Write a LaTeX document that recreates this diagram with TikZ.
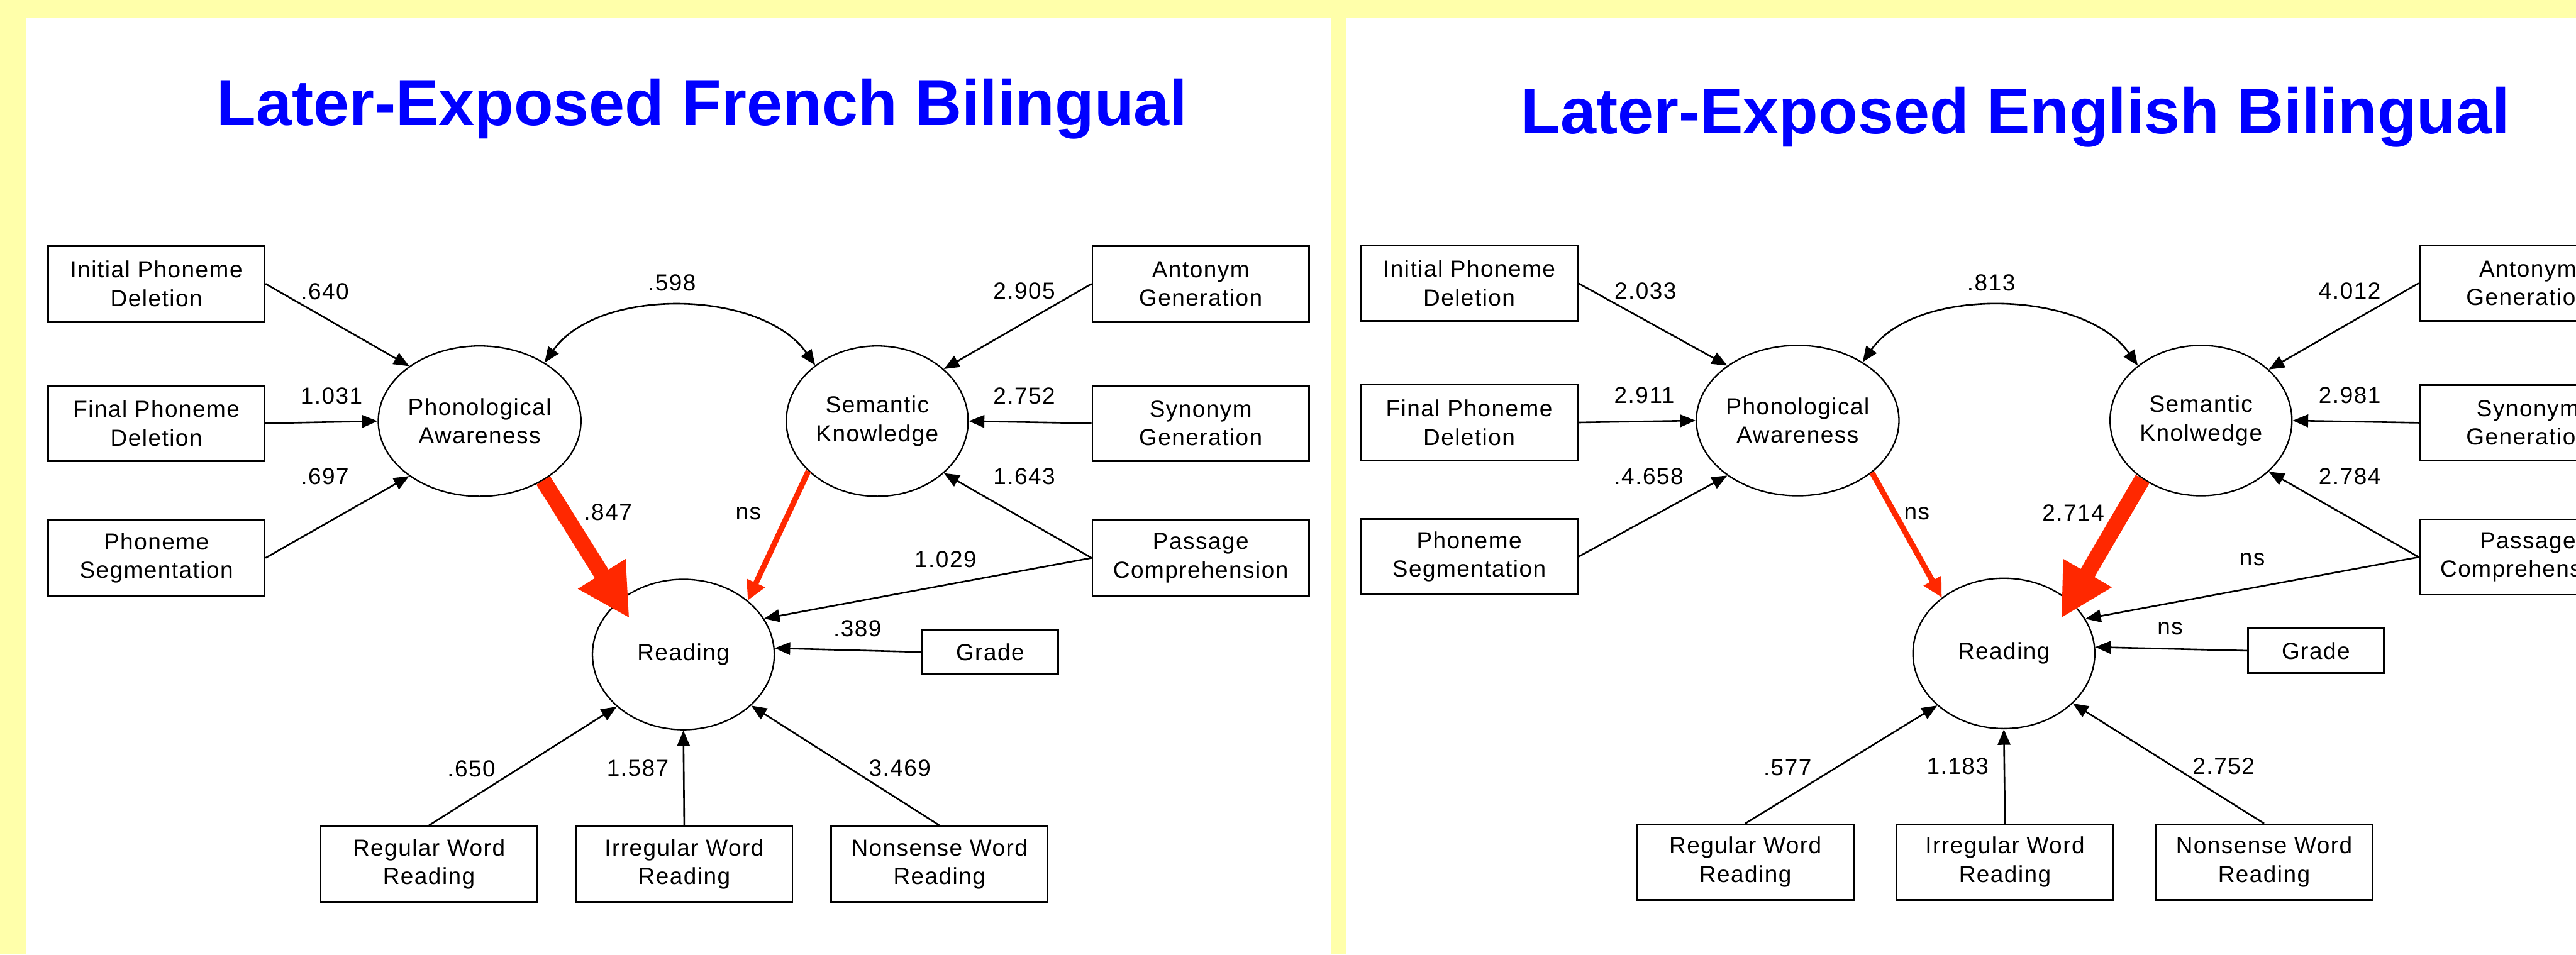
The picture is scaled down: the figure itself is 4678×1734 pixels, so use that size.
\documentclass[tikz,border=0pt]{standalone}
\usepackage{fontspec}
\setmainfont{Liberation Sans}
\newfontfamily\diagfont[LetterSpace=4]{Liberation Sans}
\usetikzlibrary{shapes.geometric,arrows.meta,calc}
\definecolor{bgyellow}{HTML}{FFFFAA}
\definecolor{arred}{RGB}{255,40,0}
\definecolor{ttlblue}{HTML}{0000FF}
\begin{document}
\begin{tikzpicture}[x=0.01cm,y=0.01cm,
  txt/.style={font=\diagfont\fontsize{12}{14.8}\selectfont},
  mbox/.style={draw,line width=0.9pt,minimum width=3.93cm,minimum height=1.37cm,inner sep=0pt,align=center,txt},
  gbox/.style={mbox,minimum width=2.47cm,minimum height=0.81cm},
  lat/.style={ellipse,draw,line width=0.75pt,minimum width=3.3cm,minimum height=2.73cm,inner sep=0pt,align=center,txt},
  lbl/.style={inner sep=0pt,txt},
  ttl/.style={anchor=base,text=ttlblue,inner sep=0pt,font=\bfseries\fontsize{33.3}{40}\selectfont},
  arr/.style={line width=0.85pt,-{Triangle[length=8pt,width=6.5pt]}},
  biarr/.style={line width=0.85pt,{Triangle[length=8pt,width=6.5pt]}-{Triangle[length=8pt,width=6.5pt]}},
  redthin/.style={draw=arred,fill=arred,line width=2.9pt,-{Triangle[length=10pt,width=9.8pt]}},
  redthick/.style={draw=arred,fill=arred,line width=8.3pt,-{Triangle[length=27pt,width=27pt]}},
]
\useasboundingbox (0,0) rectangle (4678,-1734);
\clip (0,0) rectangle (4678,-1734);
\fill[bgyellow] (0,0) rectangle (4678,-1734);
\fill[white] (47,-33) rectangle (2417,-1734);
\fill[white] (2444,-33) rectangle (4678,-1734);

% ---------------- Left panel ----------------
\node[ttl] (titleA) at (1275,-228) {Later-Exposed French Bilingual};

\node[mbox] (ipdA) at (284,-515.5) {Initial Phoneme\\Deletion};
\node[mbox] (fpdA) at (284,-769) {Final Phoneme\\Deletion};
\node[mbox] (segA) at (284,-1013.5) {Phoneme\\Segmentation};
\node[lat] (paA) at (871,-765) {Phonological\\Awareness};
\node[lat] (skA) at (1593,-765) {Semantic\\Knowledge};
\node[mbox] (antA) at (2180.5,-515.5) {Antonym\\Generation};
\node[mbox] (synA) at (2180.5,-769) {Synonym\\Generation};
\node[mbox] (pasA) at (2180.5,-1013.5) {Passage\\Comprehension};
\node[lat] (rdA) at (1241,-1189) {Reading};
\node[gbox] (grA) at (1798,-1184.5) {Grade};
\node[mbox] (rwA) at (779,-1569.5) {Regular Word\\Reading};
\node[mbox] (iwA) at (1242.5,-1569.5) {Irregular Word\\Reading};
\node[mbox] (nwA) at (1706,-1569.5) {Nonsense Word\\Reading};

\draw[arr] (ipdA.east) -- (paA.142);
\draw[arr] (fpdA.east) -- (paA.west);
\draw[arr] (segA.east) -- (paA.218);
\draw[biarr] (paA.42) .. controls +(55:169) and +(125:169) .. (skA.138);
\draw[arr] (antA.west) -- (skA.38);
\draw[arr] (synA.west) -- (skA.east);
\draw[arr] (pasA.west) -- (skA.322);
\draw[arr] (pasA.west) -- (rdA.24);
\draw[arr] (grA.west) -- (rdA.4);
\draw[arr] (rwA.north) -- (rdA.218);
\draw[arr] (iwA.north) -- (rdA.south);
\draw[arr] (nwA.north) -- (rdA.323);
\coordinate (tipA) at ([shift={(-98,66)}]rdA.center);
\draw[redthick] (paA.-43) -- (tipA);
\draw[redthin] (skA.216) -- (rdA.40);

\node[lbl] (l640) at (590,-530) {.640};
\node[lbl] (l1031) at (602,-719) {1.031};
\node[lbl] (l697) at (590,-866) {.697};
\node[lbl] (l598) at (1220,-514) {.598};
\node[lbl] (l2905) at (1860,-529) {2.905};
\node[lbl] (l2752) at (1860,-719) {2.752};
\node[lbl] (l1643) at (1860,-866) {1.643};
\node[lbl] (l1029) at (1717,-1016) {1.029};
\node[lbl] (lnsA) at (1359,-933) {ns};
\node[lbl] (l847) at (1104,-931) {.847};
\node[lbl] (l389) at (1557,-1142) {.389};
\node[lbl] (l650) at (856,-1397) {.650};
\node[lbl] (l1587) at (1158,-1395) {1.587};
\node[lbl] (l3469) at (1634,-1395) {3.469};

% ---------------- Right panel ----------------
\node[ttl] (titleB) at (3660,-243) {Later-Exposed English Bilingual};

\node[mbox] (ipdB) at (2668,-514.5) {Initial Phoneme\\Deletion};
\node[mbox] (fpdB) at (2668,-767.5) {Final Phoneme\\Deletion};
\node[mbox] (segB) at (2668,-1011.5) {Phoneme\\Segmentation};
\node[lat] (paB) at (3264.5,-764) {Phonological\\Awareness};
\node[lat] (skB) at (3997,-764) {Semantic\\Knolwedge};
\node[mbox] (antB) at (4590.5,-514.5) {Antonym\\Generation};
\node[mbox] (synB) at (4590.5,-768) {Synonym\\Generation};
\node[mbox] (pasB) at (4590.5,-1012) {Passage\\Comprehension};
\node[lat] (rdB) at (3639,-1187) {Reading};
\node[gbox] (grB) at (4205.5,-1182) {Grade};
\node[mbox] (rwB) at (3169.5,-1566) {Regular Word\\Reading};
\node[mbox] (iwB) at (3641,-1566) {Irregular Word\\Reading};
\node[mbox] (nwB) at (4111.5,-1566) {Nonsense Word\\Reading};

\draw[arr] (ipdB.east) -- (paB.142);
\draw[arr] (fpdB.east) -- (paB.west);
\draw[arr] (segB.east) -- (paB.218);
\draw[biarr] (paB.42) .. controls +(55:169) and +(125:169) .. (skB.139);
\draw[arr] (antB.west) -- (skB.37);
\draw[arr] (synB.west) -- (skB.east);
\draw[arr] (pasB.west) -- (skB.323);
\draw[arr] (pasB.west) -- (rdB.23);
\draw[arr] (grB.west) -- (rdB.4);
\draw[arr] (rwB.north) -- (rdB.218);
\draw[arr] (iwB.north) -- (rdB.south);
\draw[arr] (nwB.north) -- (rdB.324);
\draw[redthin] (paB.-35) -- (rdB.138);
\coordinate (tipB) at ([shift={(104,64)}]rdB.center);
\draw[redthick] (skB.225) -- (tipB);

\node[lbl] (r2033) at (2988,-529) {2.033};
\node[lbl] (r2911) at (2986,-718) {2.911};
\node[lbl] (r4658) at (2994,-866) {.4.658};
\node[lbl] (r813) at (3616,-514) {.813};
\node[lbl] (rns1) at (3481,-933) {ns};
\node[lbl] (r4012) at (4267,-529) {4.012};
\node[lbl] (r2981) at (4267,-718) {2.981};
\node[lbl] (r2784) at (4267,-866) {2.784};
\node[lbl] (r2714) at (3765,-931) {2.714};
\node[lbl] (rns2) at (4090,-1016) {ns};
\node[lbl] (rns3) at (3941,-1142) {ns};
\node[lbl] (r577) at (3246,-1395) {.577};
\node[lbl] (r1183) at (3555,-1392) {1.183};
\node[lbl] (r2752) at (4038,-1392) {2.752};
\end{tikzpicture}
\end{document}
